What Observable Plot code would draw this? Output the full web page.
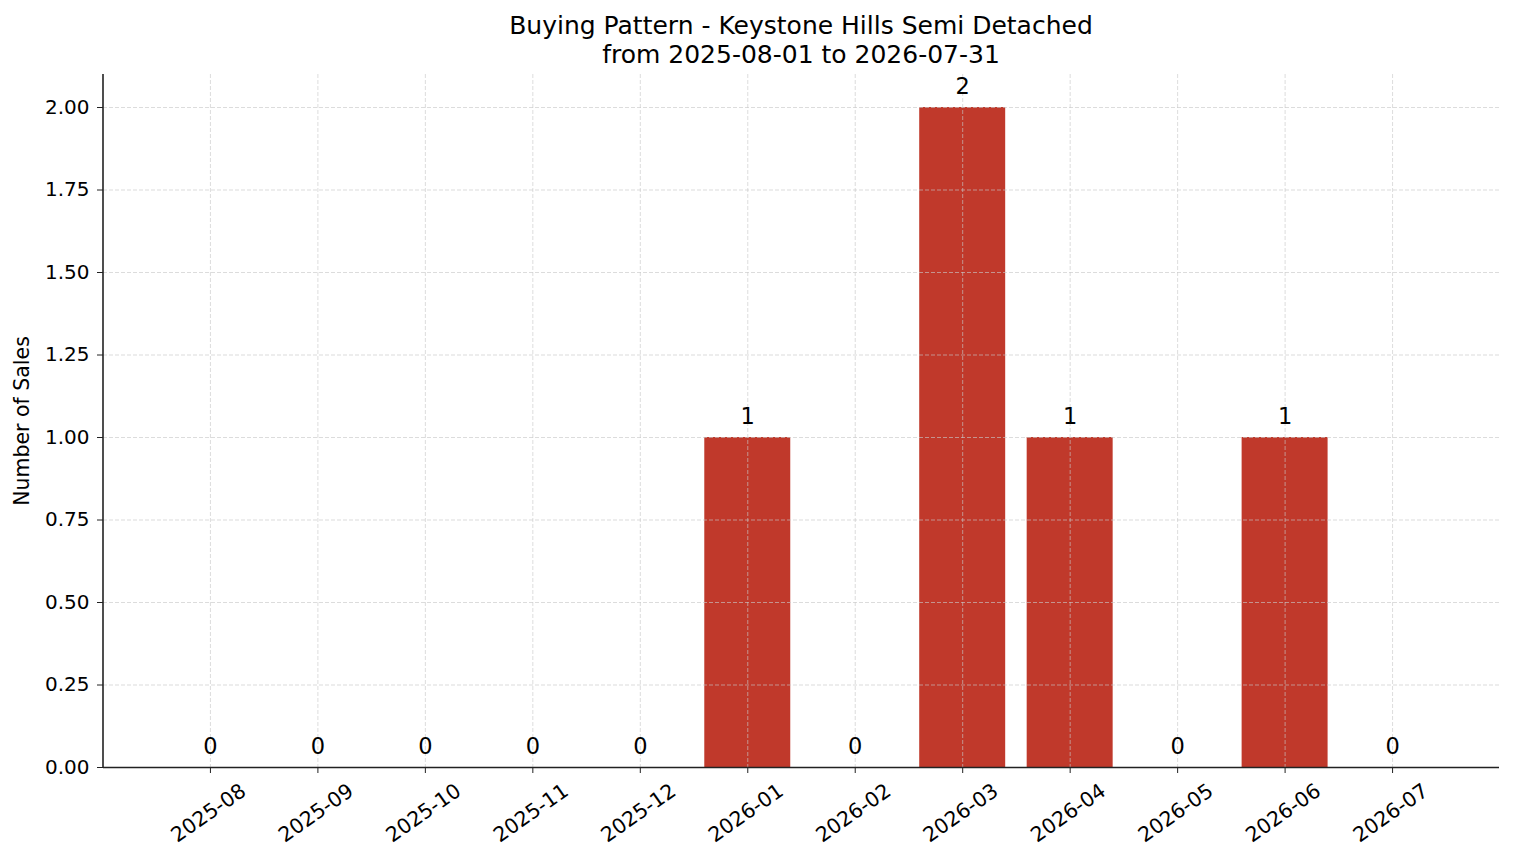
<!DOCTYPE html>
<html>
<head>
<meta charset="utf-8">
<script src="https://cdn.jsdelivr.net/npm/d3@7"></script>
<script src="https://cdn.jsdelivr.net/npm/@observablehq/plot@0.6"></script>
<style>
  html, body { margin: 0; padding: 0; background: #fff; }
  #title {
    width: 1514px; height: 68px; box-sizing: border-box;
    padding-top: 12px; padding-left: 88px;
    font-family: "DejaVu Sans", sans-serif; font-size: 25px; line-height: 28.5px;
    text-align: center; color: #000; overflow: hidden;
  }
  #chart svg { display: block; }
</style>
</head>
<body>
<div id="title">Buying Pattern - Keystone Hills Semi Detached<br>from 2025-08-01 to 2026-07-31</div>
<div id="chart"></div>
<script>
const months = ["2025-08","2025-09","2025-10","2025-11","2025-12","2026-01","2026-02","2026-03","2026-04","2026-05","2026-06","2026-07"];
const sales = [0,0,0,0,0,1,0,2,1,0,1,0];
const yTicks = [0, 0.25, 0.5, 0.75, 1.0, 1.25, 1.5, 1.75, 2.0];

const data = months.map((m, i) => ({month: m, sales: sales[i]}));

const font = '"DejaVu Sans", sans-serif';
const chart = Plot.plot({
  width: 1514,
  height: 795,
  marginTop: 6,
  marginBottom: 96,
  marginLeft: 103,
  marginRight: 15,
  style: {fontFamily: font, fontSize: "20px", color: "#000", background: "#fff"},
  x: {type: "band", domain: months, paddingInner: 0.2, paddingOuter: 0.595, round: false},
  y: {domain: [0, 2.1]},
  marks: [
    Plot.barY(data, {x: "month", y: "sales", fill: "#c0392b"}),
    Plot.gridX(months, {stroke: "#c8c8c8", strokeOpacity: 0.8, strokeDasharray: "4,2", strokeWidth: 0.8}),
    Plot.gridY(yTicks, {stroke: "#c8c8c8", strokeOpacity: 0.8, strokeDasharray: "4,2", strokeWidth: 0.8}),
    Plot.axisY({ticks: yTicks, tickFormat: d3.format(".2f"), tickSize: 6, tickPadding: 8,
      stroke: "#222", fontSize: 20, label: "Number of Sales", labelAnchor: "center",
      labelArrow: "none", labelOffset: 89}),
    Plot.axisX({tickSize: 6, tickFormat: () => "", label: null, stroke: "#222"}),
    Plot.ruleY([0], {stroke: "#222", strokeWidth: 1.6}),
    Plot.text(months, {x: d => d, frameAnchor: "bottom", dy: 51, dx: 2, rotate: -35,
      text: d => d, fontSize: 20.5, textAnchor: "middle", fill: "#000"}),
    Plot.text(data, {x: "month", y: "sales", text: d => String(d.sales), dy: -21,
      fontSize: 22.5, textAnchor: "middle", fill: "#000"})
  ]
});

// left spine
const svg = d3.select(chart);
svg.selectAll("[aria-label='y-axis label'] text, [aria-label='y-axis label']").style("font-size", "20.5px");
svg.append("line")
  .attr("x1", 103).attr("x2", 103).attr("y1", 6).attr("y2", 699)
  .attr("stroke", "#222").attr("stroke-width", 1.6);
document.getElementById("chart").appendChild(chart);
</script>
</body>
</html>
